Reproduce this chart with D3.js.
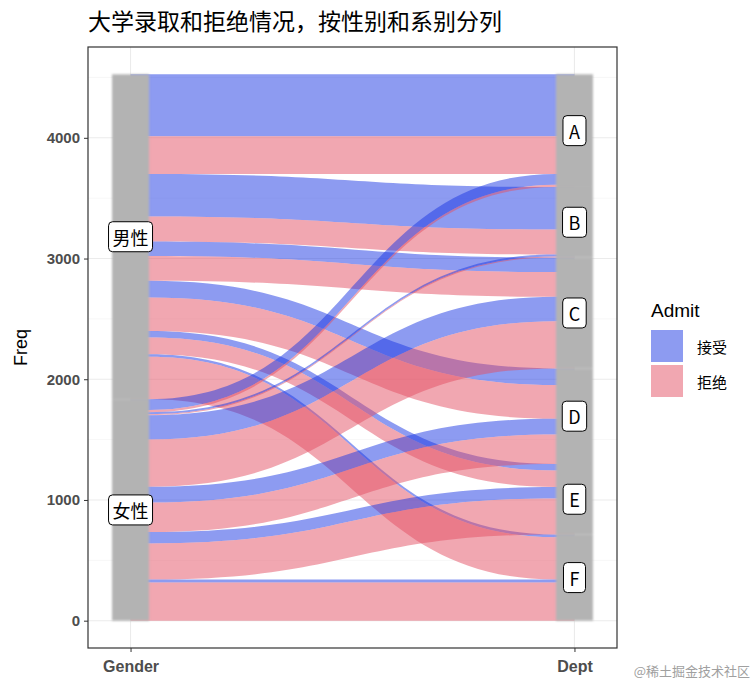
<!DOCTYPE html>
<html><head><meta charset="utf-8">
<script src="https://cdn.jsdelivr.net/npm/d3@7"></script>
<style>body{margin:0;background:#fff}svg{display:block}</style>
</head><body>
<script>
// ---- data (UCBAdmissions) ----
const depts = ["A","B","C","D","E","F"];
const genders = ["男性","女性"];
const admitLevels = ["接受","拒绝"];
const maleAdmitted   = [512,353,120,138,53,22];
const maleRejected   = [313,207,205,279,138,351];
const femaleAdmitted = [89,17,202,131,94,24];
const femaleRejected = [19,8,391,244,299,317];
const yTicks = [0,1000,2000,3000,4000];
const yMinor = [500,1500,2500,3500,4500];
const xLabels = ["Gender","Dept"];
const titleText = "大学录取和拒绝情况，按性别和系别分列";

const W=754,H=688;
const svg=d3.select("body").append("svg").attr("width",W).attr("height",H);
const P={l:88,r:617,t:47,b:648};
const total = d3.sum(maleAdmitted)+d3.sum(maleRejected)+d3.sum(femaleAdmitted)+d3.sum(femaleRejected);
const y=d3.scaleLinear().domain([-0.05*total,1.05*total]).range([P.b,P.t]);
const sw=1/12;
const x=d3.scaleLinear().domain([1-sw/2-0.05*(1+sw),2+sw/2+0.05*(1+sw)]).range([P.l,P.r]);

const blueC="rgb(28,56,228)", pinkC="rgb(228,80,100)";
const fillOf={"接受":blueC,"拒绝":pinkC};

// flows
const series={"男性":{"接受":maleAdmitted,"拒绝":maleRejected},"女性":{"接受":femaleAdmitted,"拒绝":femaleRejected}};
const flows=[];
genders.forEach(g=>depts.forEach((d,i)=>admitLevels.forEach(a=>flows.push({g,d,a,v:series[g][a][i]}))));
// left stacking: gender, dept, admit
let cur=total;
const leftStr={};
genders.forEach(g=>{const top=cur;
  depts.forEach(d=>admitLevels.forEach(a=>{const f=flows.find(f=>f.g===g&&f.d===d&&f.a===a);f.l1=cur;cur-=f.v;f.l0=cur;}));
  leftStr[g]=[cur,top];});
cur=total;
const rightStr={};
depts.forEach(d=>{const top=cur;
  genders.forEach(g=>admitLevels.forEach(a=>{const f=flows.find(f=>f.g===g&&f.d===d&&f.a===a);f.r1=cur;cur-=f.v;f.r0=cur;}));
  rightStr[d]=[cur,top];});

// panel & grid
const defs=svg.append("defs");
defs.append("clipPath").attr("id","clip").append("rect").attr("x",P.l).attr("y",P.t).attr("width",P.r-P.l).attr("height",P.b-P.t);
defs.append("filter").attr("id","blur").attr("x","-20%").attr("width","140%")
  .append("feGaussianBlur").attr("stdDeviation",1.3);
const g0=svg.append("g");
g0.selectAll(".mn").data(yMinor).join("line").attr("x1",P.l).attr("x2",P.r).attr("y1",d=>y(d)).attr("y2",d=>y(d)).attr("stroke","#F2F2F2").attr("stroke-width",0.6);
g0.selectAll(".mj").data(yTicks).join("line").attr("x1",P.l).attr("x2",P.r).attr("y1",d=>y(d)).attr("y2",d=>y(d)).attr("stroke","#EBEBEB").attr("stroke-width",1.1);
g0.selectAll(".vx").data([1,2]).join("line").attr("y1",P.t).attr("y2",P.b).attr("x1",d=>x(d)).attr("x2",d=>x(d)).attr("stroke","#EBEBEB").attr("stroke-width",1.1);

// alluvia
const x0=x(1)+ (x(1+sw)-x(1))/2, x1=x(2)-(x(1+sw)-x(1))/2, xm=(x0+x1)/2;
const ga=svg.append("g").attr("clip-path","url(#clip)");
ga.selectAll("path").data(flows).join("path")
  .attr("d",f=>`M${x(1)},${y(f.l1)}L${x0},${y(f.l1)}C${xm},${y(f.l1)} ${xm},${y(f.r1)} ${x1},${y(f.r1)}L${x(2)},${y(f.r1)}L${x(2)},${y(f.r0)}L${x1},${y(f.r0)}C${xm},${y(f.r0)} ${xm},${y(f.l0)} ${x0},${y(f.l0)}L${x(1)},${y(f.l0)}Z`)
  .attr("fill",f=>fillOf[f.a]).attr("fill-opacity",0.5);

// strata
const half=(x(1+sw)-x(1))/2;
const strata=[...genders.map(g=>({ax:1,lab:g,r:leftStr[g]})),...depts.map(d=>({ax:2,lab:d,r:rightStr[d]}))];
const gs=svg.append("g").attr("filter","url(#blur)");
gs.selectAll("rect").data(strata).join("rect")
  .attr("x",s=>x(s.ax)-half).attr("width",half*2)
  .attr("y",s=>y(s.r[1])).attr("height",s=>y(s.r[0])-y(s.r[1])).attr("fill","#B3B3B3");

// labels
const gl=svg.append("g");
strata.forEach(s=>{
  const cx=x(s.ax), cy=y((s.r[0]+s.r[1])/2);
  const t=gl.append("text").attr("x",cx).attr("y",cy).attr("text-anchor","middle").attr("dominant-baseline","central")
    .attr("font-family","'Noto Sans CJK SC','Liberation Sans',sans-serif").attr("font-size",18).attr("fill","#000").text(s.lab);
  const bb=t.node().getBBox();
  const padX=s.lab.length>1?4:6;
  gl.insert("rect","text").attr("x",bb.x-padX).attr("y",cy-15).attr("width",bb.width+2*padX).attr("height",30)
    .attr("rx",4).attr("fill","#fff").attr("stroke","#000").attr("stroke-width",1);
});

// border
svg.append("rect").attr("x",P.l).attr("y",P.t).attr("width",P.r-P.l).attr("height",P.b-P.t).attr("fill","none").attr("stroke","#333").attr("stroke-width",1.2);

// axes
const ya=svg.append("g").attr("transform",`translate(${P.l},0)`).call(d3.axisLeft(y).tickValues(yTicks).tickFormat(d3.format("d")).tickSize(4).tickPadding(4));
ya.select(".domain").remove();
ya.selectAll("line").attr("stroke","#333");
ya.selectAll("text").attr("font-family","'Liberation Sans',Arial,sans-serif").attr("font-size",15).attr("font-weight","bold").attr("fill","#4D4D4D");
const xa=svg.append("g").attr("transform",`translate(0,${P.b})`).call(d3.axisBottom(x).tickValues([1,2]).tickFormat((d,i)=>xLabels[i]).tickSize(4).tickPadding(9));
xa.select(".domain").remove();
xa.selectAll("line").attr("stroke","#333");
xa.selectAll("text").attr("font-family","'Liberation Sans',Arial,sans-serif").attr("font-size",16).attr("font-weight","bold").attr("fill","#4D4D4D");

// titles
svg.append("text").attr("x",P.l).attr("y",30).attr("font-family","'Noto Sans CJK SC',sans-serif").attr("font-size",23).attr("fill","#000").text(titleText);
svg.append("text").attr("transform",`translate(27,${(P.t+P.b)/2}) rotate(-90)`).attr("text-anchor","middle")
  .attr("font-family","'Liberation Sans',Arial,sans-serif").attr("font-size",18).attr("fill","#000").text("Freq");

// legend
const lg=svg.append("g").attr("transform","translate(651,0)");
lg.append("text").attr("x",0).attr("y",317).attr("font-family","'Liberation Sans',Arial,sans-serif").attr("font-size",19).attr("fill","#000").text("Admit");
admitLevels.forEach((a,i)=>{
  lg.append("rect").attr("x",0).attr("y",330+i*35).attr("width",32).attr("height",32).attr("fill",fillOf[a]).attr("fill-opacity",0.5);
  lg.append("text").attr("x",46).attr("y",346+i*35).attr("dominant-baseline","central").attr("font-family","'Noto Sans CJK SC',sans-serif").attr("font-size",15).attr("fill","#000").text(a);
});

// watermark
svg.append("text").attr("x",750).attr("y",676).attr("text-anchor","end").attr("font-family","'Noto Sans CJK SC',sans-serif").attr("font-size",13).attr("fill","#A0A0A0").text("@稀土掘金技术社区");
</script>
</body></html>
